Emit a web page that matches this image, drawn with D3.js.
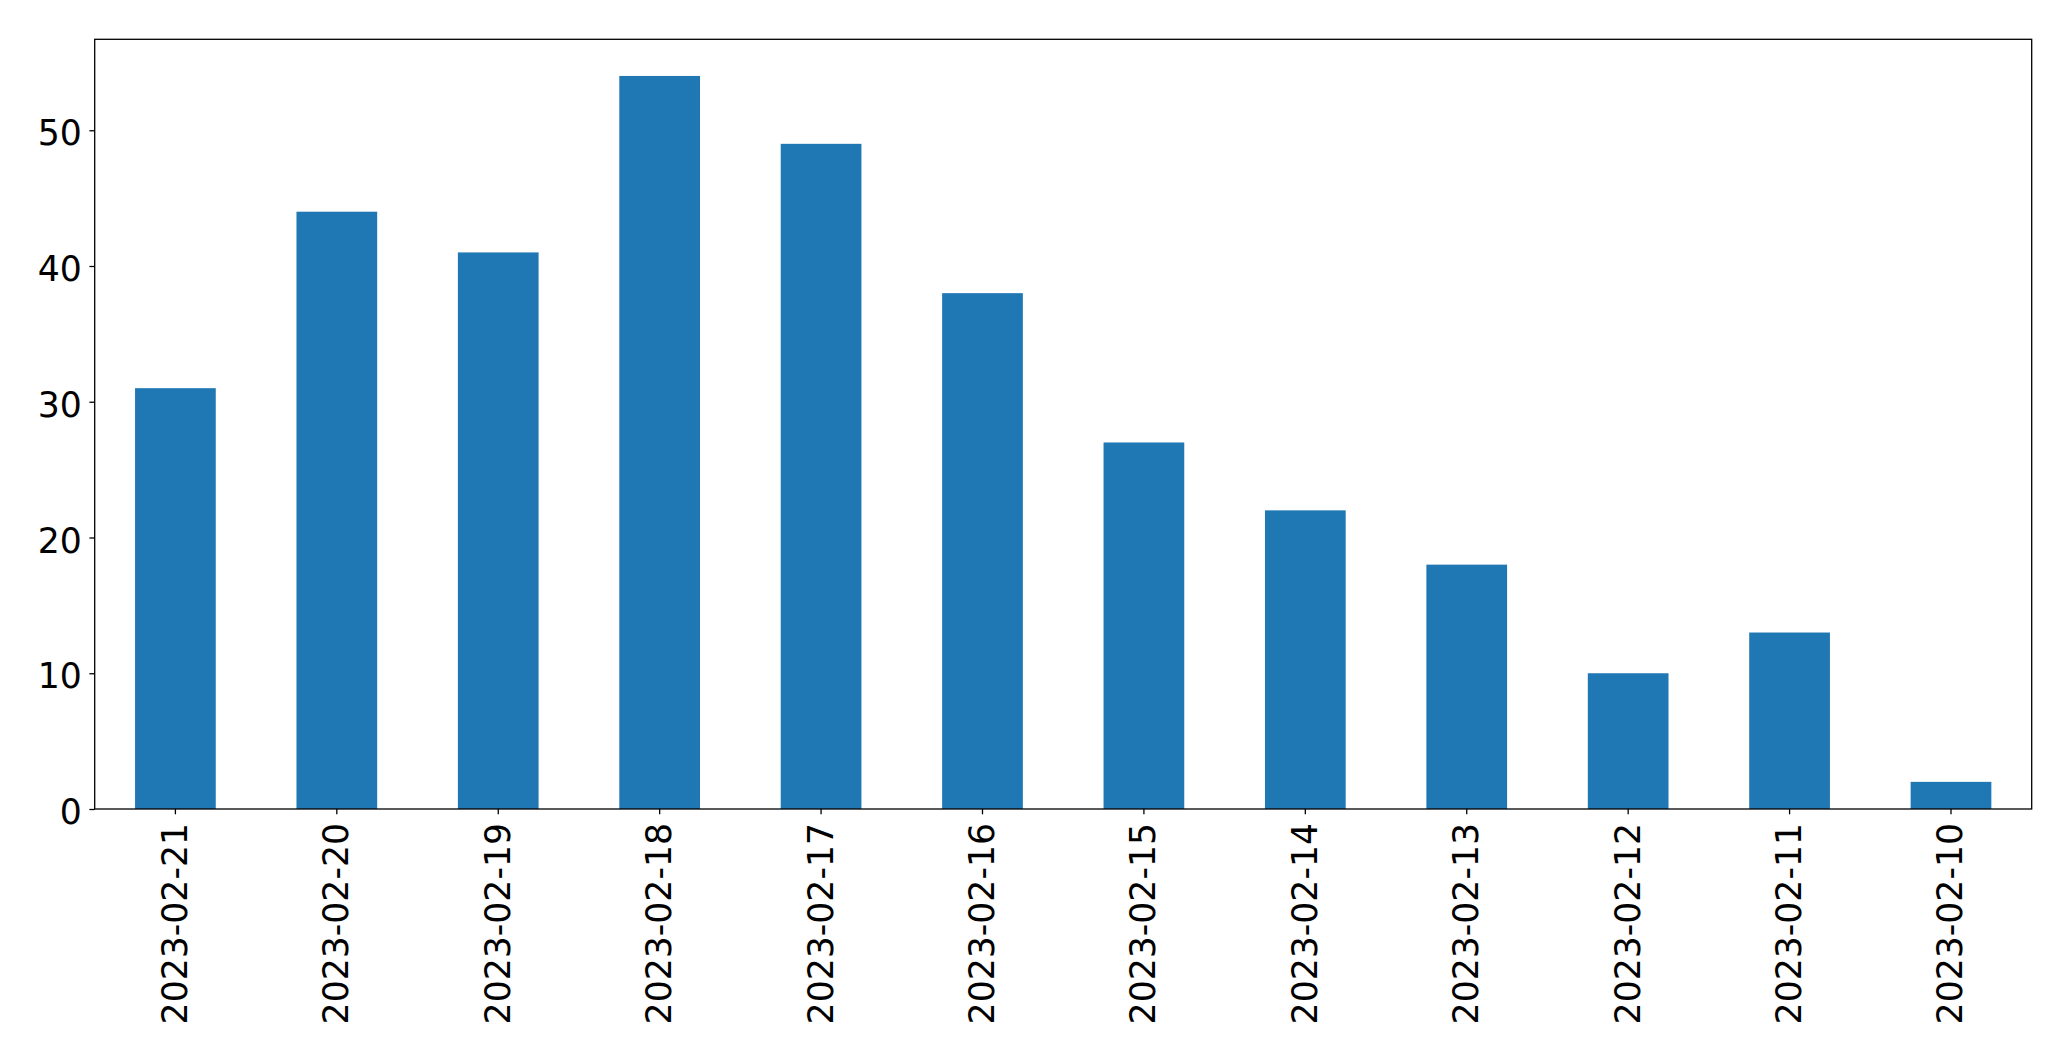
<!DOCTYPE html>
<html>
<head>
<meta charset="utf-8">
<script src="https://cdn.jsdelivr.net/npm/d3@7"></script>
<style>
  html, body { margin: 0; padding: 0; background: #fff; }
  svg { display: block; }
</style>
</head>
<body>
<script>
const categories = ["2023-02-21","2023-02-20","2023-02-19","2023-02-18","2023-02-17","2023-02-16","2023-02-15","2023-02-14","2023-02-13","2023-02-12","2023-02-11","2023-02-10"];
const values = [31, 44, 41, 54, 49, 38, 27, 22, 18, 10, 13, 2];
const yTicks = [0, 10, 20, 30, 40, 50];

const W = 2071, H = 1061;
const margin = { left: 94.7, top: 39.3, right: W - 2031.7, bottom: H - 809 };
const iw = W - margin.left - margin.right;
const ih = H - margin.top - margin.bottom;
const fontSize = 34.67;

const svg = d3.select("body").append("svg").attr("width", W).attr("height", H);
const g = svg.append("g").attr("transform", `translate(${margin.left},${margin.top})`);

const x = d3.scaleBand().domain(categories).range([0, iw]).paddingInner(0.5).paddingOuter(0.25);
const yMax = d3.max(values) * 1.05;
const y = d3.scaleLinear().domain([0, yMax]).range([ih, 0]);

g.selectAll("rect.bar").data(values).join("rect")
  .attr("class", "bar")
  .attr("x", (d, i) => x(categories[i]))
  .attr("y", d => y(d))
  .attr("width", x.bandwidth())
  .attr("height", d => y(0) - y(d))
  .attr("fill", "#1f77b4");

// frame
g.append("rect").attr("x", 0).attr("y", 0).attr("width", iw).attr("height", ih)
  .attr("fill", "none").attr("stroke", "#000").attr("stroke-width", 1.3);

const yAxis = g.append("g").call(d3.axisLeft(y).tickValues(yTicks).tickSize(5.3).tickPadding(7.6).tickFormat(d3.format("d")));
yAxis.select(".domain").remove();
yAxis.selectAll(".tick line").attr("stroke", "#000").attr("stroke-width", 1.3);
yAxis.selectAll(".tick text")
  .attr("font-family", "DejaVu Sans")
  .attr("font-size", fontSize)
  .attr("fill", "#000")
  .attr("dy", "0.42em");

const xAxis = g.append("g").attr("transform", `translate(0,${ih})`)
  .call(d3.axisBottom(x).tickSize(5.3).tickPadding(0));
xAxis.select(".domain").remove();
xAxis.selectAll(".tick line").attr("stroke", "#000").attr("stroke-width", 1.3);
xAxis.selectAll(".tick text")
  .attr("font-family", "DejaVu Sans")
  .attr("font-size", fontSize)
  .attr("fill", "#000")
  .attr("text-anchor", "end")
  .attr("y", 0)
  .attr("dy", 0)
  .attr("transform", "translate(11.5,14) rotate(-90)");
</script>
</body>
</html>
